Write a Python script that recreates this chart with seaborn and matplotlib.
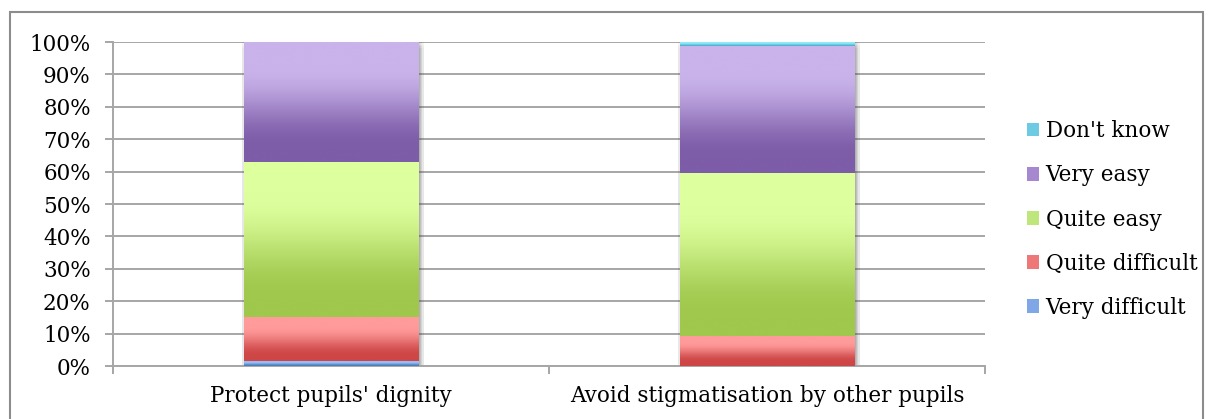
import numpy as np
import pandas as pd
import matplotlib
matplotlib.use("Agg")
import matplotlib.pyplot as plt
import matplotlib.patheffects as pe
from matplotlib.colors import to_rgb
from matplotlib.patches import Rectangle, Patch
import seaborn as sns

# ---- data (percent of respondents) ----
categories = ["Protect pupils' dignity", "Avoid stigmatisation by other pupils"]
responses = ["Very difficult", "Quite difficult", "Quite easy", "Very easy", "Don't know"]
very_difficult = [1.3, 0.0]
quite_difficult = [13.8, 9.1]
quite_easy = [47.7, 50.5]
very_easy = [37.2, 38.9]
dont_know = [0.0, 1.5]
y_ticks = [0, 10, 20, 30, 40, 50, 60, 70, 80, 90, 100]
y_tick_labels = [f"{v}%" for v in y_ticks]

# gradient ends for each response (top, bottom)
top_colors = ["#9BBDF7", "#FF9B9B", "#DEFF9E", "#C9B3EA", "#92E9F8"]
bottom_colors = ["#4A7EBB", "#CE4646", "#9FC84C", "#7D5CA8", "#46ADCB"]
mid_colors = ["#7FA7E8", "#EE7777", "#BFE67A", "#A588D0", "#6CCBE3"]

series = [very_difficult, quite_difficult, quite_easy, very_easy, dont_know]
df = pd.DataFrame({"category": np.repeat(categories, len(responses)),
                   "response": responses * len(categories),
                   "value": [series[j][i] for i in range(len(categories)) for j in range(len(responses))]})
df["response"] = pd.Categorical(df["response"], categories=responses, ordered=True)
df = df.sort_values(["category", "response"])
df["top"] = df.groupby("category")["value"].cumsum()
df["bottom"] = df["top"] - df["value"]

sns.set_style("white")
plt.rcParams["font.family"] = ["DejaVu Serif", "DejaVu Sans"]
plt.rcParams["text.color"] = "black"
FS = 15.5

fig = plt.figure(figsize=(12.08, 4.19), dpi=100)
ax = fig.add_axes([113 / 1208, 53 / 419, (985 - 113) / 1208, (366 - 42) / 419])

bar_width = 0.40

# soft drop shadow made of several faint offset copies
shadow_fx = []
for dx in (-1, 0, 1, 2, 3, 4):
    for dy in (1, 0, -1, -2, -3, -4):
        shadow_fx.append(pe.SimplePatchShadow(offset=(dx, dy), shadow_rgbFace="#606060", alpha=0.025))
shadow_fx.append(pe.Normal())

# full-height bar underneath, carrying the drop shadow
totals = df.groupby("category", sort=False)["top"].max().reindex(categories).reset_index()
n_before = len(ax.patches)
sns.barplot(data=totals, x="category", y="top", order=categories, color="white",
            width=bar_width, ax=ax, zorder=2)
for p in ax.patches[n_before:]:
    p.set_edgecolor("none")
    p.set_path_effects(shadow_fx)


def gradient_profile(n=512):
    # 0 at the bottom of a segment, 1 at its top; flat ends with a smooth ramp between
    t = np.linspace(0, 1, n)
    s = np.clip((t - 0.12) / (0.80 - 0.12), 0, 1)
    return 0.5 - 0.5 * np.cos(np.pi * s)


# stacked segments, drawn top-down so that each lower layer covers the one above
for j in range(len(responses) - 1, -1, -1):
    sub = df[df["response"] == responses[j]].set_index("category").reindex(categories).reset_index()
    n_before = len(ax.patches)
    sns.barplot(data=sub, x="category", y="top", order=categories, color=mid_colors[j],
                width=bar_width, ax=ax, zorder=3, saturation=1)
    for p, (_, row) in zip(ax.patches[n_before:], sub.iterrows()):
        p.set_edgecolor("none")
        if row["value"] <= 0:
            continue
        c_top = np.array(to_rgb(top_colors[j]))
        c_bot = np.array(to_rgb(bottom_colors[j]))
        t = gradient_profile()[:, None]
        col = c_bot * (1 - t) + c_top * t
        grad = np.repeat(col[:, None, :], 4, axis=1)
        x0 = p.get_x()
        ax.imshow(grad, extent=(x0, x0 + p.get_width(), row["bottom"], row["top"]),
                  origin="lower", aspect="auto", interpolation="antialiased", zorder=3.5)

ax.set_xlim(-0.5, len(categories) - 0.5)
ax.set_ylim(0, 100)
ax.set_yticks(y_ticks)
ax.set_yticklabels(y_tick_labels)
ax.set_xlabel("")
ax.set_ylabel("")

grid_col = "#A6A6A6"
ax.yaxis.grid(True, color=grid_col, lw=1.4)
ax.xaxis.grid(False)
ax.set_axisbelow(True)
for s in ["top", "right"]:
    ax.spines[s].set_visible(False)
for s in ["left", "bottom"]:
    ax.spines[s].set_color(grid_col)
    ax.spines[s].set_linewidth(1.4)

ax.tick_params(axis="y", which="major", length=6, width=1.4, color=grid_col,
               direction="out", pad=10, labelsize=FS, labelcolor="black", left=True)
ax.tick_params(axis="x", which="major", length=0, pad=14, labelsize=FS, labelcolor="black")
ax.set_xticks(np.arange(-0.5, len(categories), 1.0), minor=True)
ax.tick_params(axis="x", which="minor", length=6, width=1.4, color=grid_col,
               direction="out", bottom=True)

handles = [Patch(facecolor=mid_colors[j], edgecolor="none", label=responses[j])
           for j in range(len(responses) - 1, -1, -1)]
fig.legend(handles=handles, loc="center left", bbox_to_anchor=(1027 / 1208, 1 - 219.5 / 419),
           frameon=False, fontsize=FS, handlelength=0.56, handleheight=0.6,
           handletextpad=0.3, labelspacing=1.03, borderpad=0, borderaxespad=0,
           labelcolor="black")

# chart-area border
fig.patches.append(Rectangle((10 / 1208, -0.05), (1203 - 10) / 1208, 1.05 - 12 / 419,
                             transform=fig.transFigure, fill=False,
                             edgecolor="#8C8C8C", lw=1.5, zorder=0))

fig.savefig("out.png", dpi=100)
